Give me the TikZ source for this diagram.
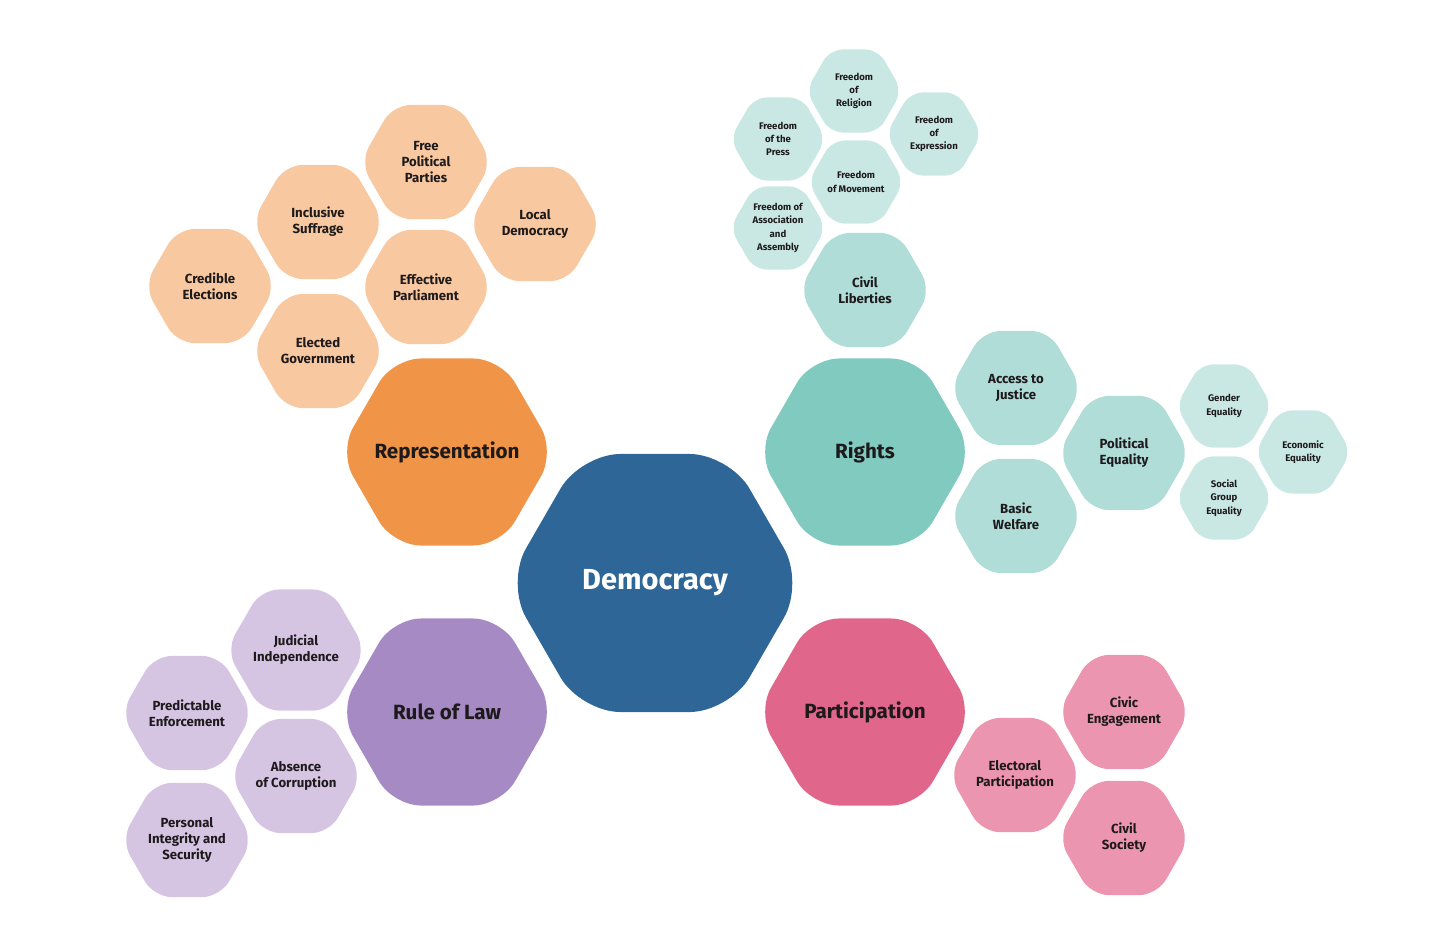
\documentclass[tikz,border=0pt]{standalone}
\usepackage{fontspec}
\setmainfont{Fira Sans}
\usepackage{tikz}
\usetikzlibrary{shapes.geometric}
\definecolor{dmblue}{HTML}{2F6698}
\definecolor{dmorange}{HTML}{F09547}
\definecolor{dmorangelt}{HTML}{F8C8A0}
\definecolor{dmteal}{HTML}{80CAC0}
\definecolor{dmtealmid}{HTML}{B0DDD7}
\definecolor{dmteallt}{HTML}{C9E8E3}
\definecolor{dmpurple}{HTML}{A68AC4}
\definecolor{dmpurplelt}{HTML}{D5C5E3}
\definecolor{dmpink}{HTML}{E0668C}
\definecolor{dmpinklt}{HTML}{EC95B1}
\definecolor{dmink}{HTML}{1E1A1C}

\begin{document}
\begin{tikzpicture}[
      x=0.5pt, y=-0.5pt,
      hexcell/.style={regular polygon, regular polygon sides=6, inner sep=0pt,
                      align=center, text=dmink},
      core/.style={hexcell, minimum size=149pt, rounded corners=20pt, fill=dmblue,
                   text=white, font=\bfseries\fontsize{14.5}{17}\selectfont},
      pillar/.style={hexcell, minimum size=108pt, rounded corners=14pt,
                     font=\bfseries\fontsize{10.3}{12}\selectfont},
      sub/.style={hexcell, minimum size=66pt, rounded corners=9pt,
                  font=\bfseries\fontsize{6.6}{8}\selectfont},
      leaf/.style={hexcell, minimum size=48pt, rounded corners=6.5pt,
                   font=\bfseries\fontsize{4.8}{6.6}\selectfont},
    ]
    \useasboundingbox (0,0) rectangle (1440,927);

    % centre and the four pillars
    \node[core] (dem) at (655,583) {Democracy};
    \node[pillar, fill=dmorange] (rep)  at (447,452) {\makebox[0pt]{Representation}};
    \node[pillar, fill=dmteal]   (rig)  at (865,452) {Rights};
    \node[pillar, fill=dmpurple] (law)  at (447,712) {Rule of Law};
    \node[pillar, fill=dmpink]   (part) at (865,712) {Participation};

    % representation
    \node[sub, fill=dmorangelt] (parties) at (426,162) {Free\\Political\\Parties};
    \node[sub, fill=dmorangelt] (suffr)   at (318,222) {Inclusive\\Suffrage};
    \node[sub, fill=dmorangelt] (localdm) at (535,224) {Local\\Democracy};
    \node[sub, fill=dmorangelt] (elect)   at (210,286) {Credible\\Elections};
    \node[sub, fill=dmorangelt] (parl)    at (426,287) {Effective\\Parliament};
    \node[sub, fill=dmorangelt] (govt)    at (318,351) {Elected\\Government};

    % rights
    \node[sub, fill=dmtealmid] (civlib)  at (865,290) {Civil\\Liberties};
    \node[leaf, fill=dmteallt] (relig)   at (854,91)  {Freedom\\of\\Religion};
    \node[leaf, fill=dmteallt] (press)   at (778,139) {Freedom\\of the\\Press};
    \node[leaf, fill=dmteallt] (expr)    at (934,134) {Freedom\\of\\Expression};
    \node[leaf, fill=dmteallt] (move)    at (856,182) {Freedom\\of Movement};
    \node[leaf, fill=dmteallt] (assoc)   at (778,228) {Freedom of\\Association\\and\\Assembly};
    \node[sub, fill=dmtealmid] (justice) at (1016,388) {Access to\\Justice};
    \node[sub, fill=dmtealmid] (welfare) at (1016,516) {Basic\\Welfare};
    \node[sub, fill=dmtealmid] (poleq)   at (1124,453) {Political\\Equality};
    \node[leaf, fill=dmteallt] (gender)  at (1224,406) {Gender\\Equality};
    \node[leaf, fill=dmteallt] (group)   at (1224,498) {Social\\Group\\Equality};
    \node[leaf, fill=dmteallt] (econ)    at (1303,452) {Economic\\Equality};

    % rule of law
    \node[sub, fill=dmpurplelt] (judic)   at (296,650) {Judicial\\Independence};
    \node[sub, fill=dmpurplelt] (enforce) at (187,713) {Predictable\\Enforcement};
    \node[sub, fill=dmpurplelt] (corrupt) at (296,776) {Absence\\of Corruption};
    \node[sub, fill=dmpurplelt] (secur)   at (187,840) {Personal\\Integrity and\\Security};

    % participation
    \node[sub, fill=dmpinklt] (electp)  at (1015,775) {Electoral\\Participation};
    \node[sub, fill=dmpinklt] (civic)   at (1124,712) {Civic\\Engagement};
    \node[sub, fill=dmpinklt] (civsoc)  at (1124,838) {Civil\\Society};
  \end{tikzpicture}
\end{document}
